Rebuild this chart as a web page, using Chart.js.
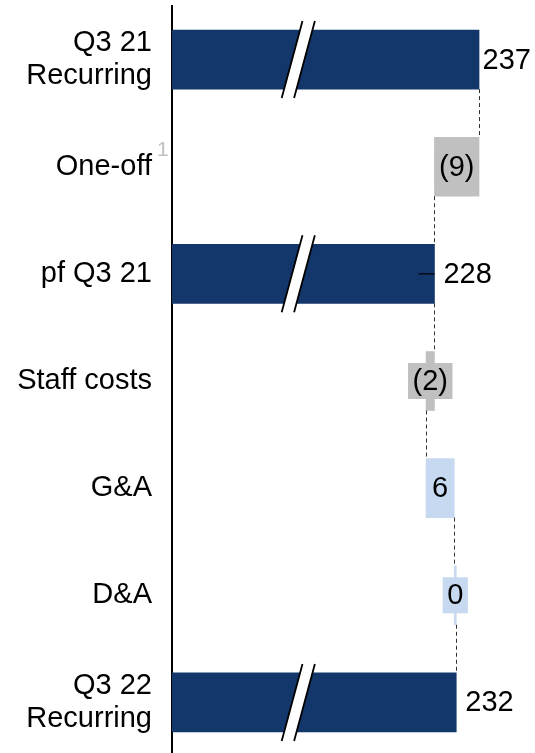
<!DOCTYPE html>
<html>
<head>
<meta charset="utf-8">
<script src="https://cdn.jsdelivr.net/npm/chart.js@4"></script>
<style>
  html, body { margin: 0; padding: 0; background: #ffffff; overflow: hidden; }
  #wrap { position: relative; width: 535px; height: 756px; }
</style>
</head>
<body>
<div id="wrap"><canvas id="c"></canvas></div>
<script>
// ---- Data ----
const categories = [["Q3 21", "Recurring"], "One-off", "pf Q3 21", "Staff costs", "G&A", "D&A", ["Q3 22", "Recurring"]];
const barKinds = ["total", "delta", "total", "delta", "delta", "delta", "total"];
const values = [237, -9, 228, -1.7, 5.7, 0.4, 232.4];
const valueLabels = ["237", "(9)", "228", "(2)", "6", "0", "232"];
const footnotes = ["", "1", "", "", "", "", ""];
const leaderMarks = [false, false, true, false, false, false, false];
const xMin = 175;
const xMax = 248.3;
const axisBreakValue = 200.5;

// ---- Styles ----
const NAVY = "#13366b";
const GREY = "#c0c0c0";
const LIGHTBLUE = "#c6d9f0";
const FONT = "'Liberation Sans', Arial, Helvetica, sans-serif";
const FONT_SIZE = 29;

// ---- Build waterfall ranges ----
const ranges = [];
const colors = [];
let running = 0;
for (let i = 0; i < values.length; i++) {
  if (barKinds[i] === "total") {
    ranges.push([xMin, values[i]]);
    running = values[i];
    colors.push(NAVY);
  } else {
    ranges.push([running, running + values[i]]);
    running += values[i];
    colors.push(values[i] < 0 ? GREY : LIGHTBLUE);
  }
}

const overlayPlugin = {
  id: "overlay",
  afterDatasetsDraw(chart) {
    const ctx = chart.ctx;
    const xs = chart.scales.x;
    const meta = chart.getDatasetMeta(0);
    ctx.save();
    // connectors
    ctx.strokeStyle = "#333333";
    ctx.lineWidth = 1;
    ctx.setLineDash([4, 3]);
    for (let i = 0; i < ranges.length - 1; i++) {
      const endVal = ranges[i][1];
      const x = Math.round(xs.getPixelForValue(endVal)) + 0.5;
      const b = meta.data[i];
      const n = meta.data[i + 1];
      const y0 = b.y + b.height / 2;
      const y1 = n.y - n.height / 2;
      ctx.beginPath();
      ctx.moveTo(x, y0);
      ctx.lineTo(x, y1);
      ctx.stroke();
    }
    ctx.setLineDash([]);

    // axis break marks on total bars
    const bx = xs.getPixelForValue(axisBreakValue);
    for (let i = 0; i < ranges.length; i++) {
      if (barKinds[i] !== "total") continue;
      const b = meta.data[i];
      const half = b.height / 2 + 9;
      const slope = 0.27;
      const gap = 6.2;
      const yt = b.y - half, yb = b.y + half;
      const dx = half * slope;
      ctx.fillStyle = "#ffffff";
      ctx.beginPath();
      ctx.moveTo(bx - gap + dx, yt);
      ctx.lineTo(bx + gap + dx, yt);
      ctx.lineTo(bx + gap - dx, yb);
      ctx.lineTo(bx - gap - dx, yb);
      ctx.closePath();
      ctx.fill();
      ctx.strokeStyle = "#000000";
      ctx.lineWidth = 1.8;
      ctx.beginPath();
      ctx.moveTo(bx - gap + dx, yt);
      ctx.lineTo(bx - gap - dx, yb);
      ctx.moveTo(bx + gap + dx, yt);
      ctx.lineTo(bx + gap - dx, yb);
      ctx.stroke();
    }

    // value labels
    ctx.font = FONT_SIZE + "px " + FONT;
    ctx.textBaseline = "middle";
    for (let i = 0; i < ranges.length; i++) {
      const b = meta.data[i];
      const txt = valueLabels[i];
      const w = ctx.measureText(txt).width;
      if (barKinds[i] === "total") {
        const endX = xs.getPixelForValue(ranges[i][1]);
        let tx = endX + 9;
        if (tx + w > chart.width - 4) tx = chart.width - 4 - w;
        ctx.fillStyle = "#000000";
        ctx.textAlign = "left";
        ctx.fillText(txt, tx, b.y + 1);
        if (leaderMarks[i]) {
          ctx.strokeStyle = "#000000";
          ctx.lineWidth = 1.2;
          ctx.beginPath();
          ctx.moveTo(endX - 16, b.y);
          ctx.lineTo(endX, b.y);
          ctx.stroke();
        }
      } else {
        const cx = (xs.getPixelForValue(ranges[i][0]) + xs.getPixelForValue(ranges[i][1])) / 2;
        const bw = w + 9;
        const bh = 36;
        ctx.fillStyle = colors[i];
        ctx.fillRect(cx - bw / 2, b.y - bh / 2, bw, bh);
        ctx.fillStyle = "#000000";
        ctx.textAlign = "center";
        ctx.fillText(txt, cx, b.y + 1);
      }
    }

    // footnote superscripts on category labels
    const ys = chart.scales.y;
    for (let i = 0; i < footnotes.length; i++) {
      if (!footnotes[i]) continue;
      const y = ys.getPixelForValue(i);
      ctx.font = "21px " + FONT;
      ctx.fillStyle = "#bfbfbf";
      ctx.textAlign = "left";
      ctx.textBaseline = "alphabetic";
      ctx.fillText(footnotes[i], ys.right - 15, y - 11);
    }
    ctx.restore();
  }
};

new Chart(document.getElementById("c"), {
  type: "bar",
  data: {
    labels: categories,
    datasets: [{
      data: ranges,
      backgroundColor: colors,
      borderWidth: 0,
      barThickness: 59,
      borderSkipped: false
    }]
  },
  options: {
    indexAxis: "y",
    responsive: true,
    maintainAspectRatio: false,
    animation: false,
    events: [],
    layout: { padding: { top: 6, right: 0, bottom: 0, left: 0 } },
    plugins: {
      legend: { display: false },
      tooltip: { enabled: false }
    },
    scales: {
      x: {
        display: false,
        min: xMin,
        max: xMax
      },
      y: {
        afterFit(scale) {
          scale.width = 172;
          scale.paddingTop = 0;
          scale.paddingBottom = 0;
        },
        grid: { display: false, drawTicks: false },
        border: { display: true, color: "#000000", width: 2 },
        ticks: {
          color: "#000000",
          padding: 20,
          font: { family: FONT, size: FONT_SIZE, lineHeight: 1.16 }
        }
      }
    }
  },
  plugins: [overlayPlugin]
});
</script>
</body>
</html>
